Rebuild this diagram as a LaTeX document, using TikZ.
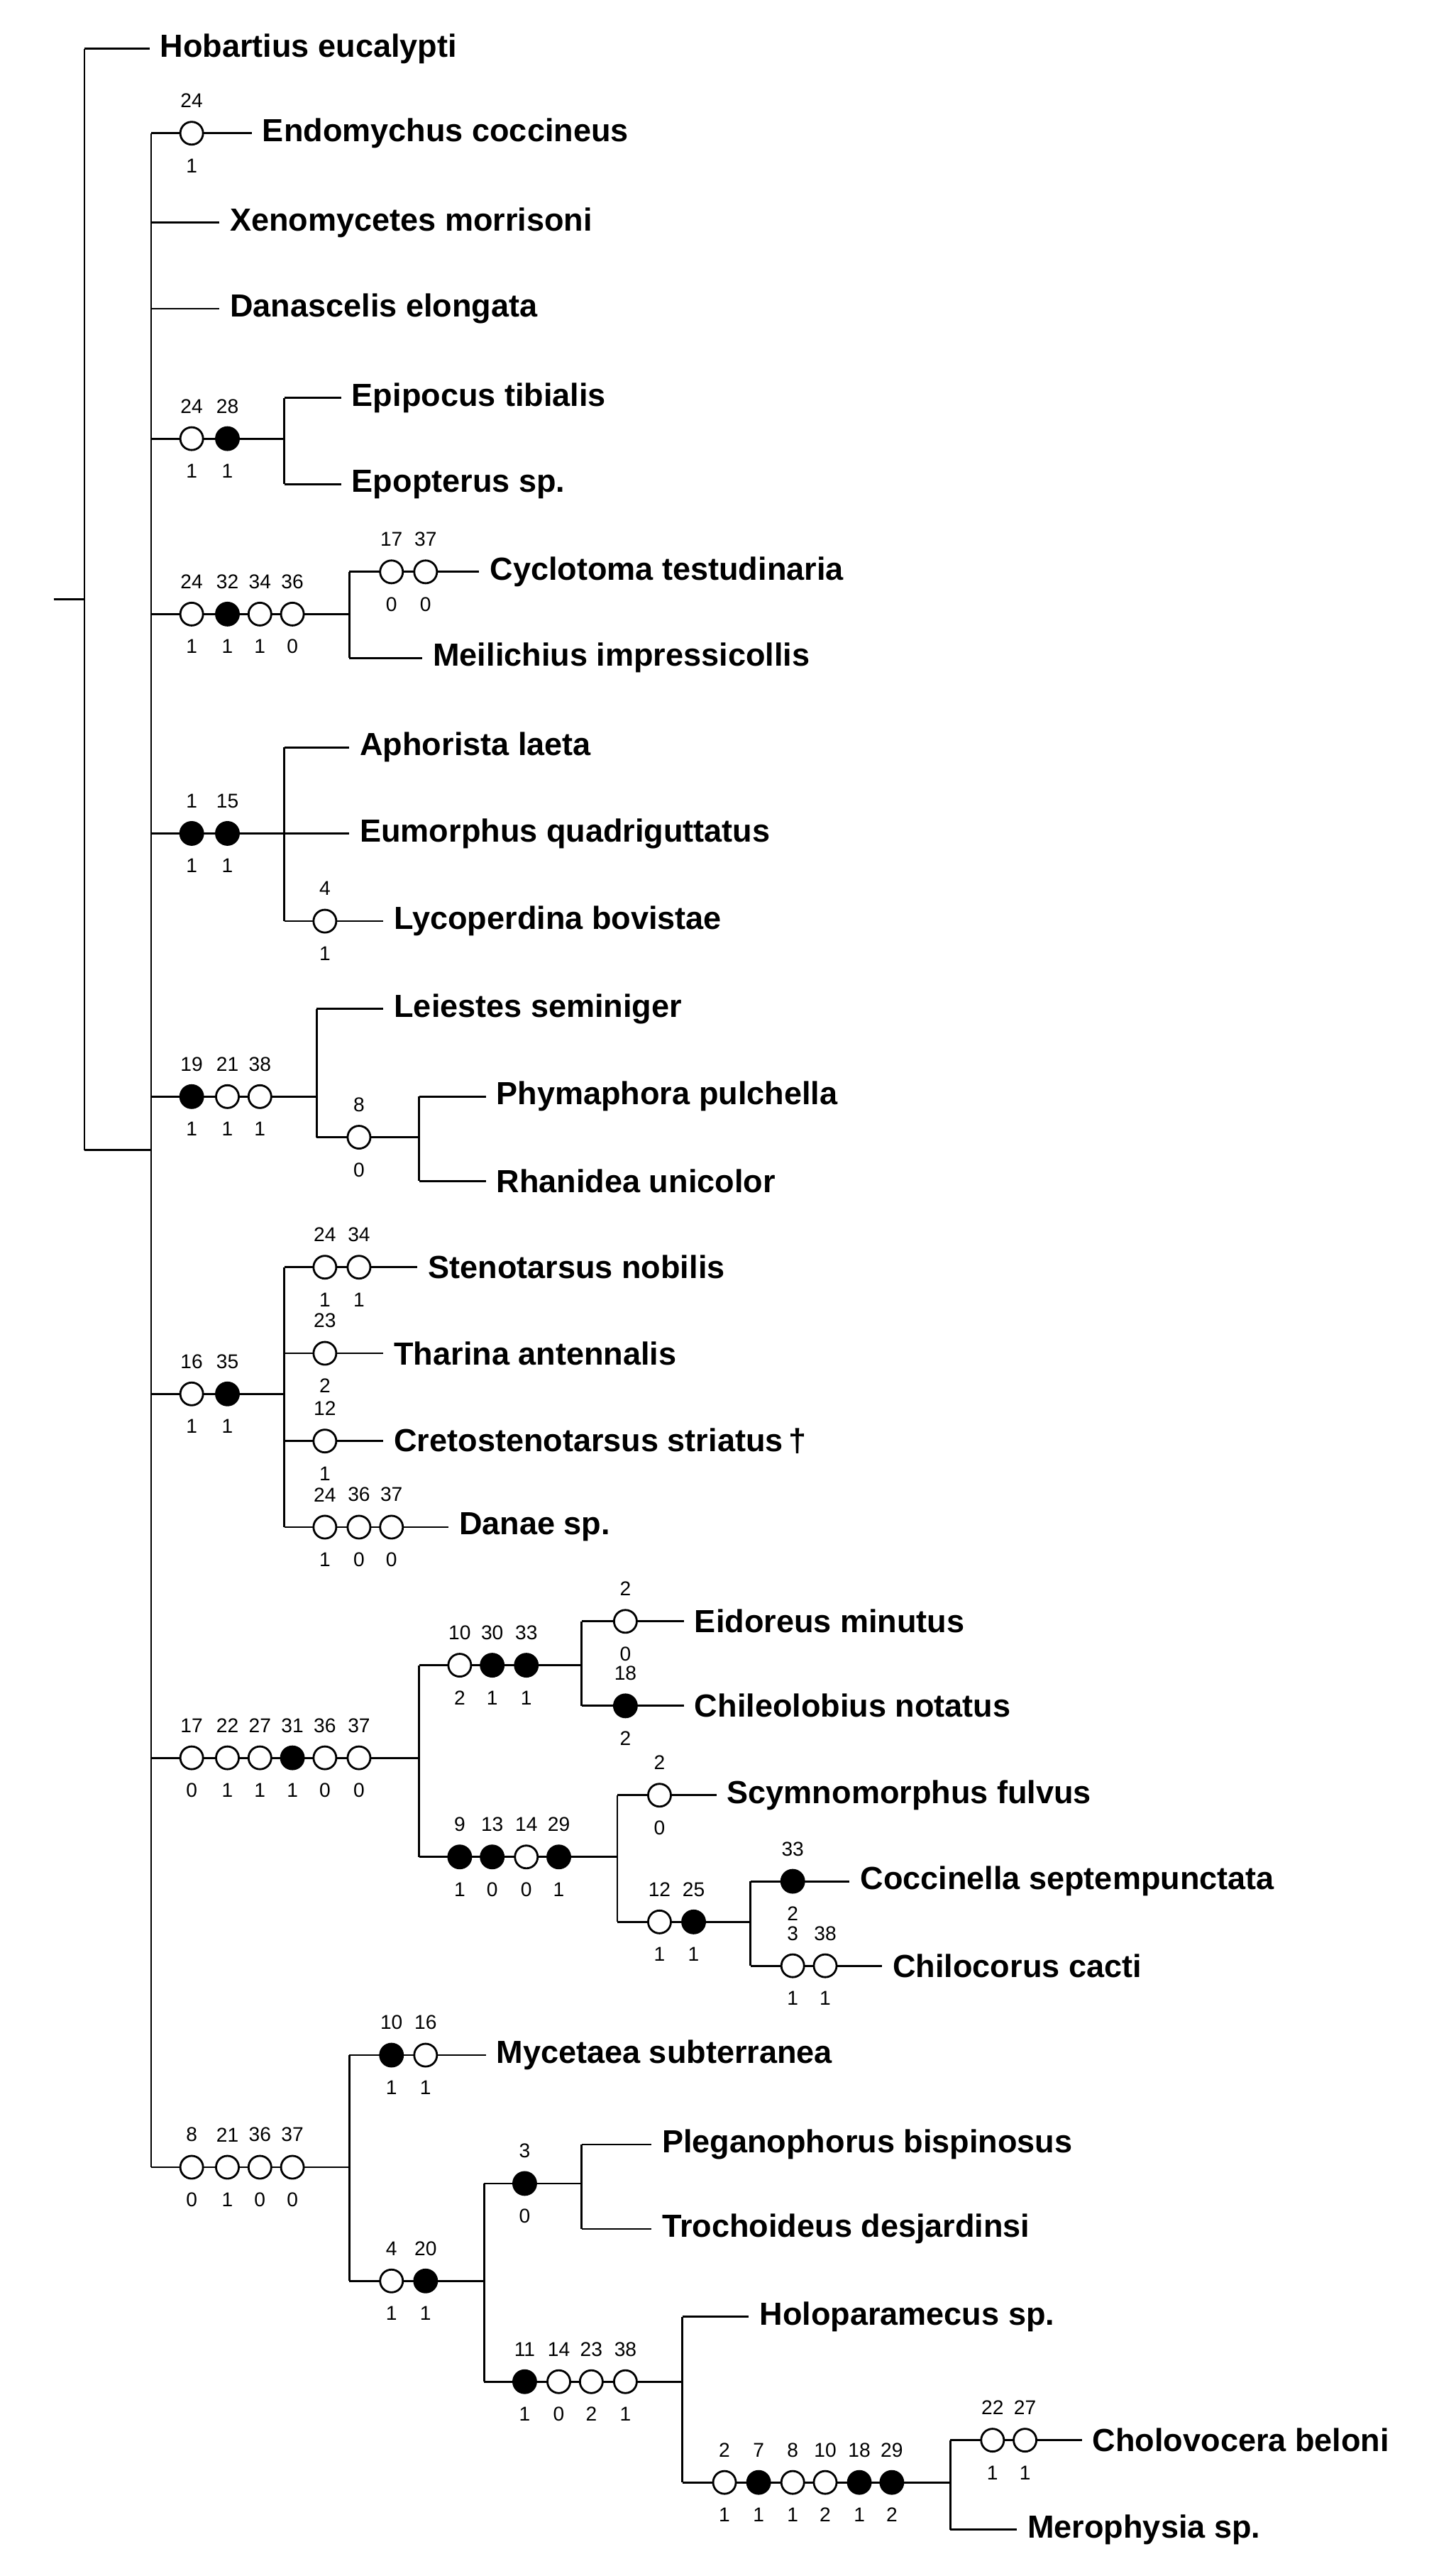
\documentclass[tikz,border=0pt]{standalone}
\usepackage{fontspec}
\setmainfont{Liberation Sans}
\begin{document}
\begin{tikzpicture}[x=0.1cm,y=-0.1cm,line width=3.5pt,
  nm/.style={anchor=west,inner sep=0pt,font=\fontsize{56}{60}\selectfont\bfseries},
  num/.style={inner sep=0pt,font=\fontsize{35}{38}\selectfont}]
\useasboundingbox (0,0) rectangle (896,1569);
\newcommand\ck[5]{\draw[fill=#3] (#1,#2) circle[radius=0.7cm];
  \node[num] at (#1,#2-20) {#4}; \node[num] at (#1,#2+20) {#5};}
\newcommand\tx[4]{\draw (#1,#3) -- (#2,#3); \node[nm] (n#3) at (#2+6,#3) {#4};}
% root
\draw (33,369) -- (52,369); \draw (52,30) -- (52,708); \draw (52,708) -- (93,708);
\tx{52}{92}{30}{Hobartius eucalypti}
\draw (93,82) -- (93,1334);
% Endomychus
\tx{93}{155}{82}{Endomychus coccineus} \ck{118}{82}{white}{24}{1}
\tx{93}{135}{137}{Xenomycetes morrisoni}
\tx{93}{135}{190}{Danascelis elongata}
% Epipocus
\draw (93,270)--(175,270); \draw (175,245)--(175,298);
\tx{175}{210}{245}{Epipocus tibialis} \tx{175}{210}{298}{Epopterus sp.}
\ck{118}{270}{white}{24}{1} \ck{140}{270}{black}{28}{1}
% Cyclotoma
\draw (93,378)--(215,378); \draw (215,352)--(215,405);
\tx{215}{295}{352}{Cyclotoma testudinaria} \ck{241}{352}{white}{17}{0} \ck{262}{352}{white}{37}{0}
\tx{215}{260}{405}{Meilichius impressicollis}
\ck{118}{378}{white}{24}{1} \ck{140}{378}{black}{32}{1} \ck{160}{378}{white}{34}{1} \ck{180}{378}{white}{36}{0}
% Aphorista
\draw (93,513)--(175,513); \draw (175,460)--(175,567);
\tx{175}{215}{460}{Aphorista laeta} \tx{175}{215}{513}{Eumorphus quadriguttatus}
\tx{175}{236}{567}{Lycoperdina bovistae} \ck{200}{567}{white}{4}{1}
\ck{118}{513}{black}{1}{1} \ck{140}{513}{black}{15}{1}
% Leiestes
\draw (93,675)--(195,675); \draw (195,621)--(195,700);
\tx{195}{236}{621}{Leiestes seminiger}
\draw (195,700)--(258,700); \draw (258,675)--(258,727);
\tx{258}{299}{675}{Phymaphora pulchella} \tx{258}{299}{727}{Rhanidea unicolor}
\ck{221}{700}{white}{8}{0}
\ck{118}{675}{black}{19}{1} \ck{140}{675}{white}{21}{1} \ck{160}{675}{white}{38}{1}
% Stenotarsus
\draw (93,858)--(175,858); \draw (175,780)--(175,940);
\tx{175}{257}{780}{Stenotarsus nobilis} \ck{200}{780}{white}{24}{1} \ck{221}{780}{white}{34}{1}
\tx{175}{236}{833}{Tharina antennalis} \ck{200}{833}{white}{23}{2}
\tx{175}{236}{887}{Cretostenotarsus striatus\,\textdagger} \ck{200}{887}{white}{12}{1}
\tx{175}{276}{940}{Danae sp.} \ck{200}{940}{white}{24}{1} \ck{221}{940}{white}{36}{0} \ck{241}{940}{white}{37}{0}
\ck{118}{858}{white}{16}{1} \ck{140}{858}{black}{35}{1}
% big clade
\draw (93,1082)--(258,1082); \draw (258,1025)--(258,1143);
\draw (258,1025)--(358,1025); \draw (358,998)--(358,1050);
\tx{358}{421}{998}{Eidoreus minutus} \ck{385}{998}{white}{2}{0}
\tx{358}{421}{1050}{Chileolobius notatus} \ck{385}{1050}{black}{18}{2}
\ck{283}{1025}{white}{10}{2} \ck{303}{1025}{black}{30}{1} \ck{324}{1025}{black}{33}{1}
\draw (258,1143)--(380,1143); \draw (380,1105)--(380,1183);
\tx{380}{441}{1105}{Scymnomorphus fulvus} \ck{406}{1105}{white}{2}{0}
\draw (380,1183)--(462,1183); \draw (462,1158)--(462,1210);
\tx{462}{523}{1158}{Coccinella septempunctata} \ck{488}{1158}{black}{33}{2}
\tx{462}{543}{1210}{Chilocorus cacti} \ck{488}{1210}{white}{3}{1} \ck{508}{1210}{white}{38}{1}
\ck{406}{1183}{white}{12}{1} \ck{427}{1183}{black}{25}{1}
\ck{283}{1143}{black}{9}{1} \ck{303}{1143}{black}{13}{0} \ck{324}{1143}{white}{14}{0} \ck{344}{1143}{black}{29}{1}
\ck{118}{1082}{white}{17}{0} \ck{140}{1082}{white}{22}{1} \ck{160}{1082}{white}{27}{1} \ck{180}{1082}{black}{31}{1} \ck{200}{1082}{white}{36}{0} \ck{221}{1082}{white}{37}{0}
% last clade
\draw (93,1334)--(215,1334); \draw (215,1265)--(215,1404);
\tx{215}{299}{1265}{Mycetaea subterranea} \ck{241}{1265}{black}{10}{1} \ck{262}{1265}{white}{16}{1}
\draw (215,1404)--(298,1404); \draw (298,1344)--(298,1466);
\draw (298,1344)--(358,1344); \draw (358,1320)--(358,1372);
\tx{358}{401}{1320}{Pleganophorus bispinosus} \tx{358}{401}{1372}{Trochoideus desjardinsi}
\ck{323}{1344}{black}{3}{0}
\draw (298,1466)--(420,1466); \draw (420,1426)--(420,1528);
\tx{420}{461}{1426}{Holoparamecus sp.}
\draw (420,1528)--(585,1528); \draw (585,1502)--(585,1557);
\tx{585}{666}{1502}{Cholovocera beloni} \ck{611}{1502}{white}{22}{1} \ck{631}{1502}{white}{27}{1}
\tx{585}{626}{1557}{Merophysia sp.}
\ck{446}{1528}{white}{2}{1} \ck{467}{1528}{black}{7}{1} \ck{488}{1528}{white}{8}{1} \ck{508}{1528}{white}{10}{2} \ck{529}{1528}{black}{18}{1} \ck{549}{1528}{black}{29}{2}
\ck{323}{1466}{black}{11}{1} \ck{344}{1466}{white}{14}{0} \ck{364}{1466}{white}{23}{2} \ck{385}{1466}{white}{38}{1}
\ck{241}{1404}{white}{4}{1} \ck{262}{1404}{black}{20}{1}
\ck{118}{1334}{white}{8}{0} \ck{140}{1334}{white}{21}{1} \ck{160}{1334}{white}{36}{0} \ck{180}{1334}{white}{37}{0}
\end{tikzpicture}
\end{document}
